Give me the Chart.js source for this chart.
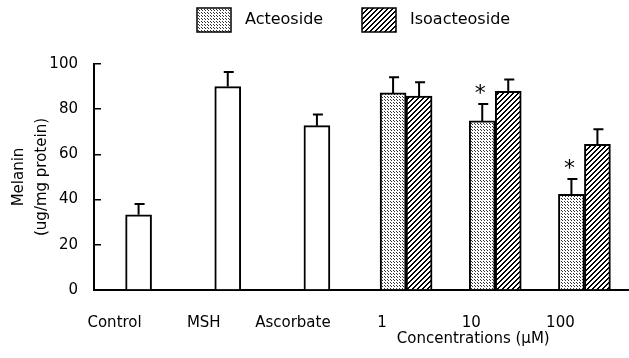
<!DOCTYPE html>
<html>
<head>
<meta charset="utf-8">
<script src="https://cdn.jsdelivr.net/npm/chart.js@4.4.0/dist/chart.umd.min.js"></script>
<style>
  html, body { margin: 0; padding: 0; background: #fff; }
  #wrap { width: 629px; height: 358px; }
</style>
</head>
<body>
<div id="wrap"><canvas id="myChart"></canvas></div>
<script>
const categories = ['Control', 'MSH', 'Ascorbate', '1', '10', '100'];
const controlValues = [33.3, 90.0, 72.7, null, null, null];
const controlErrors = [4.8, 6.5, 5.0, null, null, null];
const acteosideValues = [null, null, null, 87.2, 74.8, 42.3];
const acteosideErrors = [null, null, null, 6.9, 7.5, 6.8];
const acteosideSignificant = [false, false, false, false, true, true];
const isoacteosideValues = [null, null, null, 85.8, 87.9, 64.5];
const isoacteosideErrors = [null, null, null, 6.1, 5.2, 6.6];
const yTicks = [0, 20, 40, 60, 80, 100];

const FONT = "'DejaVu Sans', sans-serif";

// stipple pattern for Acteoside
function dotPattern(){
    const c = document.createElement('canvas');
    c.width = 3; c.height = 3;
    const g = c.getContext('2d');
    g.fillStyle = '#fff';
    g.fillRect(0, 0, 3, 3);
    g.fillStyle = '#333';
    g.fillRect(1, 1, 1, 1);
    g.fillRect(0, 0, 1, 1);
    return g.createPattern(c, 'repeat');
}

// diagonal stripes for Isoacteoside
function stripePattern(){
    const n = 5;
    const c = document.createElement('canvas');
    c.width = n; c.height = n;
    const g = c.getContext('2d');
    g.fillStyle = '#fff';
    g.fillRect(0, 0, n, n);
    g.fillStyle = '#000';
    for (let x = 0; x < n; x++) {
        for (let y = 0; y < n; y++) {
            if ((x + y) % n < 2) g.fillRect(x, y, 1, 1);
        }
    }
    return g.createPattern(c, 'repeat');
}

const dots = dotPattern();
const stripes = stripePattern();

const errorBars = {
    id: 'errorBars',
    afterDatasetsDraw(chart){
        const ctx = chart.ctx;
        const y = chart.scales.y;
        chart.data.datasets.forEach(function(ds, di){
            const meta = chart.getDatasetMeta(di);
            ds.data.forEach(function(v, i){
                if (v === null || ds.errors[i] === null) return;
                const bar = meta.data[i];
                const top = y.getPixelForValue(v);
                const errTop = y.getPixelForValue(v + ds.errors[i]);
                ctx.save();
                ctx.strokeStyle = '#000';
                ctx.lineWidth = 2;
                ctx.beginPath();
                ctx.moveTo(bar.x, top);
                ctx.lineTo(bar.x, errTop);
                ctx.moveTo(bar.x - 4, errTop);
                ctx.lineTo(bar.x + 6, errTop);
                ctx.stroke();
                if (ds.significant && ds.significant[i]) {
                    ctx.fillStyle = '#000';
                    ctx.font = '22px ' + FONT;
                    ctx.textAlign = 'center';
                    ctx.textBaseline = 'middle';
                    ctx.fillText('*', bar.x - 2, errTop - 10);
                }
                ctx.restore();
            });
        });
    }
};

const extraText = {
    id: 'extraText',
    afterDraw(chart){
        const ctx = chart.ctx;
        const x = chart.scales.x;
        ctx.save();
        // x axis title under the concentration groups
        ctx.fillStyle = '#000';
        ctx.font = '15px ' + FONT;
        ctx.textAlign = 'center';
        ctx.textBaseline = 'middle';
        const cx = (x.getPixelForValue(3) + x.getPixelForValue(5)) / 2 - 22;
        ctx.fillText('Concentrations (\u03bcM)', cx, 339);

        // legend
        ctx.font = '16px ' + FONT;
        ctx.textAlign = 'left';
        const items = chart.data.datasets.filter(function(d){ return d.inLegend; });
        const boxes = [197, 362];
        items.forEach(function(d, k){
            const bx = boxes[k];
            ctx.fillStyle = d.backgroundColor;
            ctx.fillRect(bx, 8, 34, 24);
            ctx.strokeStyle = '#000';
            ctx.lineWidth = 1.5;
            ctx.strokeRect(bx, 8, 34, 24);
            ctx.fillStyle = '#000';
            ctx.fillText(d.label, bx + 48, 20);
        });
        ctx.restore();
    }
};

new Chart(document.getElementById('myChart'), {
    type: 'bar',
    data: {
        labels: categories,
        datasets: [{
            label: 'Treatment',
            data: controlValues,
            errors: controlErrors,
            backgroundColor: '#fff',
            borderColor: '#000',
            borderWidth: 2,
            barThickness: 26,
            skipNull: true,
            inLegend: false
        }, {
            label: 'Acteoside',
            data: acteosideValues,
            errors: acteosideErrors,
            significant: acteosideSignificant,
            backgroundColor: dots,
            borderColor: '#000',
            borderWidth: 2,
            barThickness: 26,
            skipNull: true,
            inLegend: true
        }, {
            label: 'Isoacteoside',
            data: isoacteosideValues,
            errors: isoacteosideErrors,
            backgroundColor: stripes,
            borderColor: '#000',
            borderWidth: 2,
            barThickness: 26,
            skipNull: true,
            inLegend: true
        }]
    },
    options: {
        responsive: true,
        maintainAspectRatio: false,
        animation: false,
        layout: {
            padding: { top: 64, right: 0, bottom: 10, left: 0 }
        },
        plugins: {
            legend: { display: false },
            tooltip: { enabled: false }
        },
        scales: {
            x: {
                grid: { display: false },
                border: { display: true, color: '#000', width: 2 },
                ticks: {
                    color: '#000',
                    font: { family: FONT, size: 15 },
                    padding: 16,
                    labelOffset: -24,
                    maxRotation: 0,
                    autoSkip: false
                }
            },
            y: {
                min: 0,
                max: 100,
                afterBuildTicks: function(scale){
                    scale.ticks = yTicks.map(function(v){ return { value: v }; });
                },
                afterFit: function(scale){
                    scale.width = 94;
                },
                grid: {
                    drawOnChartArea: false,
                    drawTicks: true,
                    tickLength: -7,
                    color: '#000',
                    lineWidth: 1.5
                },
                border: { display: true, color: '#000', width: 2 },
                ticks: {
                    color: '#000',
                    font: { family: FONT, size: 15 },
                    padding: 23
                },
                title: {
                    display: true,
                    text: ['Melanin', '(ug/mg protein)'],
                    color: '#000',
                    font: { family: FONT, size: 15, lineHeight: 1.5 },
                    padding: { top: 8, bottom: 0 }
                }
            }
        }
    },
    plugins: [errorBars, extraText]
});
</script>
</body>
</html>
